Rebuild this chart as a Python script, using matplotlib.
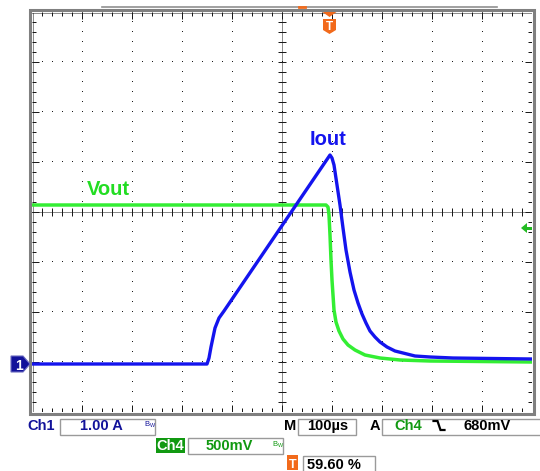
import matplotlib
matplotlib.use('Agg')
import matplotlib.pyplot as plt
import numpy as np
from matplotlib.patches import Rectangle, Polygon

W, H = 540, 471

# ---- data (time in microseconds, levels in screen divisions) ----
iout_t = [0, 136, 236, 350, 354, 358, 366, 374, 384, 596,
          600, 604, 610, 616, 622, 628, 636, 644, 652, 660, 668, 676,
          686, 696, 710, 726, 742, 766, 796, 842, 1000]
iout_div = [-3.04, -3.04, -3.04, -3.04, -2.92, -2.70, -2.32, -2.12, -1.98, 1.14,
            1.08, 0.94, 0.54, 0.14, -0.32, -0.76, -1.20, -1.56, -1.82, -2.04,
            -2.22, -2.38, -2.50, -2.60, -2.70, -2.78, -2.82, -2.88, -2.90,
            -2.92, -2.94]
vout_t = [0, 588, 592, 594, 596, 598, 600, 602, 604, 608, 614, 622, 632,
          646, 666, 696, 736, 796, 1000]
vout_div = [0.14, 0.14, 0.10, -0.06, -0.46, -0.96, -1.36, -1.66, -1.96,
            -2.20, -2.38, -2.54, -2.66, -2.76, -2.86, -2.92, -2.96, -2.98, -3.00]

labels_row1 = ["Ch1", "1.00 A", "M", "100µs", "A", "Ch4", "680mV"]
labels_row2 = ["Ch4", "500mV"]
trig_pos = "59.60 %"

BLUE = '#1414ee'
GREEN = '#33ee33'
DKBLUE = '#12129a'
DKGREEN = '#119911'
ORANGE = '#f26a1b'
GRIDC = '#1a1a1a'
FONT = 'Liberation Sans'

fig = plt.figure(figsize=(5.4, 4.71), dpi=100)
fig.patch.set_facecolor('white')

ax = fig.add_axes([32 / W, 1 - 412 / H, 500 / W, 400 / H])
ax.set_xlim(0, 1000)
ax.set_ylim(-4, 4)
ax.axis('off')

# major grid dotted lines (single-pixel dots every 10 px)
for k in range(1, 10):
    if k == 5:
        continue
    ys = np.arange(-3.8, 3.9, 0.2)
    ax.plot(np.full_like(ys, k * 100.0), ys, ',', color=GRIDC, zorder=1)
for k in range(-3, 4):
    if k == 0:
        continue
    xs = np.arange(20.0, 1000.0, 20.0)
    ax.plot(xs, np.full_like(xs, float(k)), ',', color=GRIDC, zorder=1)

# center lines (dense dotted) with tick marks
ax.plot([0, 1000], [0, 0], color=GRIDC, lw=0.72, ls=(0, (1, 1)), zorder=1)
ax.plot([500, 500], [-4, 4], color=GRIDC, lw=0.72, ls=(0, (1, 1)), zorder=1)
xs = np.arange(20.0, 1000.0, 20.0)
ax.vlines(xs, -0.08, 0.08, color=GRIDC, lw=0.72, zorder=1)
ys = np.arange(-3.8, 3.9, 0.2)
ax.hlines(ys, 492, 508, color=GRIDC, lw=0.72, zorder=1)

# edges dense dotted + inward ticks
for yy in (-4 + 0.01, 4 - 0.01):
    ax.plot([0, 1000], [yy, yy], color=GRIDC, lw=0.72, ls=(0, (1, 1)), zorder=1)
for xx in (1, 999):
    ax.plot([xx, xx], [-4, 4], color=GRIDC, lw=0.72, ls=(0, (1, 1)), zorder=1)
minor_x = np.arange(20.0, 1000.0, 20.0)
major_x = np.arange(100.0, 1000.0, 100.0)
ax.vlines(minor_x, 3.92, 4, color=GRIDC, lw=0.72, zorder=1)
ax.vlines(minor_x, -4, -3.92, color=GRIDC, lw=0.72, zorder=1)
ax.vlines(major_x, 3.86, 4, color=GRIDC, lw=0.72, zorder=1)
ax.vlines(major_x, -4, -3.86, color=GRIDC, lw=0.72, zorder=1)
minor_y = np.arange(-3.8, 3.9, 0.2)
major_y = np.arange(-3.0, 3.5, 1.0)
ax.hlines(minor_y, 0, 8, color=GRIDC, lw=0.72, zorder=1)
ax.hlines(minor_y, 992, 1000, color=GRIDC, lw=0.72, zorder=1)
ax.hlines(major_y, 0, 14, color=GRIDC, lw=0.72, zorder=1)
ax.hlines(major_y, 986, 1000, color=GRIDC, lw=0.72, zorder=1)

# traces
ax.plot(vout_t, vout_div, color=GREEN, lw=2.5, zorder=3, solid_joinstyle='round')
ax.plot(iout_t, iout_div, color=BLUE, lw=2.4, zorder=4, solid_joinstyle='round')

# ---- overlay in pixel coordinates ----
ov = fig.add_axes([0, 0, 1, 1], zorder=5)
ov.set_xlim(0, W)
ov.set_ylim(H, 0)
ov.axis('off')
ov.patch.set_alpha(0)

# frame
ov.add_patch(Rectangle((30, 9.8), 503.5, 404, fill=False, ec='#808080', lw=2.2))
ov.plot([102, 497], [7, 7], color='#909090', lw=1.2)
ov.plot([299, 305], [7, 7], color=ORANGE, lw=2.0)

# trace labels
ov.text(328, 145, "Iout", color=BLUE, fontsize=14.5, fontweight='bold',
        family=FONT, ha='center', va='baseline')
ov.text(108.5, 195, "Vout", color='#22dd22', fontsize=14.5, fontweight='bold',
        family=FONT, ha='center', va='baseline')

# trigger marker top
ov.add_patch(Polygon([(322.5, 12), (336.5, 12), (329.5, 17)], closed=True,
                     fc=ORANGE, ec='none'))
ov.add_patch(Polygon([(323, 19), (336, 19), (336, 30), (329.5, 34), (323, 30)],
                     closed=True, fc=ORANGE, ec='none'))
ov.text(329.5, 30.5, "T", color='white', fontsize=8.5, fontweight='bold',
        family=FONT, ha='center', va='baseline')

# Ch1 ground marker
ov.add_patch(Polygon([(11, 356), (23, 356), (30, 364), (23, 372), (11, 372)],
                     closed=True, fc=DKBLUE, ec='#6a6ac0', lw=0.8))
ov.text(18.5, 369.5, "1", color='white', fontsize=10, fontweight='bold',
        family=FONT, ha='center', va='baseline')

# trigger level arrow (right)
ov.add_patch(Polygon([(521, 228), (527, 223), (527, 233)], closed=True,
                     fc='#22bb22', ec='none'))
ov.add_patch(Rectangle((527, 226.5), 5, 3, fc='#22bb22', ec='none'))

# ---- bottom readout ----
box = dict(fill=False, ec='#9a9a9a', lw=1.0)
fs = 10.5
tk = dict(fontsize=fs, fontweight='bold', family=FONT, va='baseline', ha='center')

ov.text(41.5, 430, labels_row1[0], color=DKBLUE, **tk)
ov.add_patch(Rectangle((59.5, 418.5), 95, 16, **box))
ov.text(101.5, 430, labels_row1[1], color=DKBLUE, **tk)


def bw(x, y, c):
    ov.text(x, y, r"B$_{\mathregular{W}}$", color=c, fontsize=5.5, family=FONT,
            ha='left', va='baseline')


bw(144, 427, DKBLUE)

ov.text(290, 430, labels_row1[2], color='black', **tk)
ov.add_patch(Rectangle((297.5, 418.5), 58, 16, **box))
ov.text(328, 430, labels_row1[3], color='black', **tk)
ov.text(374.5, 430, labels_row1[4], color='black', **tk)
ov.add_patch(Rectangle((381.5, 418.5), 160, 16, **box))
ov.text(408.5, 430, labels_row1[5], color=DKGREEN, **tk)
ov.plot([433.5, 437.5, 440.5, 444.5], [421, 421, 430, 430], color='black',
        lw=1.6, solid_joinstyle='miter')
ov.text(487.5, 430, labels_row1[6], color='black', **tk)

# row 2
ov.add_patch(Rectangle((156, 438), 29, 14.5, fc=DKGREEN, ec='none'))
ov.text(170.5, 450, labels_row2[0], color='white', **tk)
ov.add_patch(Rectangle((187.5, 437.5), 95, 16, **box))
ov.text(229, 450, labels_row2[1], color=DKGREEN, **tk)
bw(272, 446.5, DKGREEN)

# row 3
ov.add_patch(Rectangle((287, 455), 10.5, 15, fc=ORANGE, ec='none'))
ov.text(292.3, 468, "T", color='white', fontsize=9, fontweight='bold',
        family=FONT, ha='center', va='baseline')
ov.add_patch(Rectangle((302.5, 455.5), 72, 17, **box))
ov.text(333.5, 469, trig_pos, color='black', **tk)

fig.savefig('out.png', dpi=100, facecolor='white')
